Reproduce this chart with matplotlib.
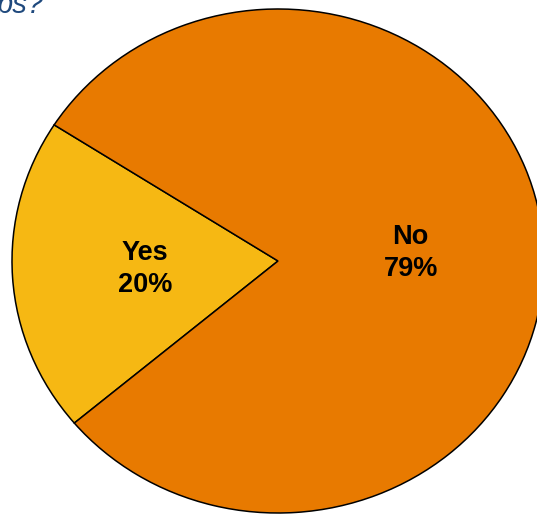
import matplotlib.pyplot as plt

# survey answers
answers = ['Yes', 'No']
shares = [20, 79]
colors = ['#F6B813', '#E87A00']

fig = plt.figure(figsize=(5.37, 5.15), dpi=100)
ax = fig.add_axes([0, 0, 1, 1])

labels = [f'{a}\n{s}%' for a, s in zip(answers, shares)]
wedges, texts = ax.pie(shares, labels=labels, colors=colors, startangle=147.3,
                       labeldistance=0.5,
                       wedgeprops=dict(edgecolor='black', linewidth=1.1),
                       textprops=dict(fontsize=19.5, fontweight='bold',
                                      family='Liberation Sans', color='black',
                                      ha='center', va='center', linespacing=1.3))

# the pie is drawn slightly wider than tall
ax.set_aspect('auto')
ax.set_xlim(-278 / 266, 259 / 266)
ax.set_ylim(-254 / 252, 261 / 252)
ax.axis('off')

# title runs off the left edge of the page
fig.text(44 / 537, 1 - 13 / 515, 'ps?', ha='right', va='baseline',
         fontsize=21, style='italic', family='Liberation Sans', color='#1F497D')

plt.savefig('out.png', dpi=100)
